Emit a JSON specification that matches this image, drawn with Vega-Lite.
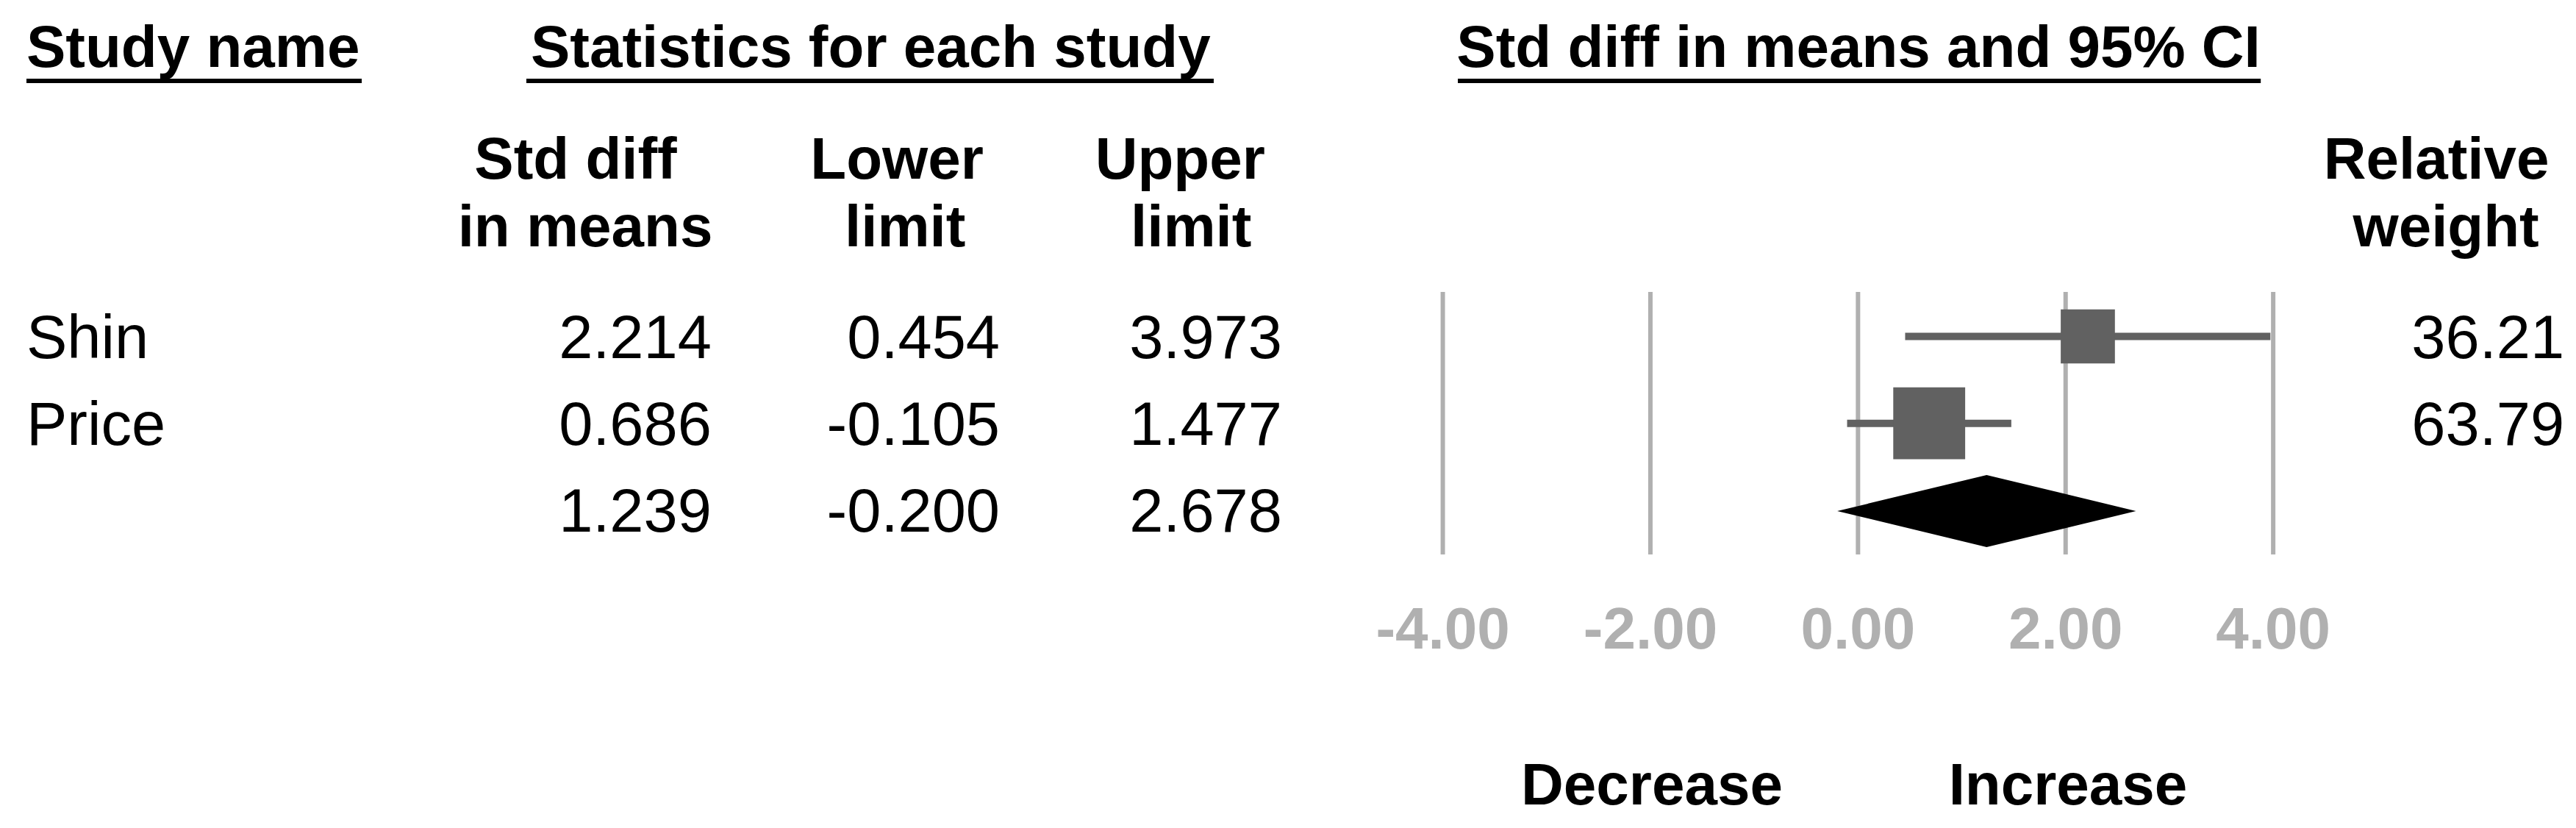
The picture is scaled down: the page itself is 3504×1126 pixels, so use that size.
{
  "$schema": "https://vega.github.io/schema/vega-lite/v6.json",
  "width": 3504,
  "height": 1126,
  "padding": 0,
  "autosize": {"type": "none"},
  "background": "white",
  "config": {
    "view": {"stroke": null},
    "locale": {"number": {"decimal": ".", "thousands": ",", "grouping": [3], "currency": ["$", ""], "minus": "-"}},
    "text": {"font": "Liberation Sans", "baseline": "alphabetic", "color": "black"}
  },
  "data": {"values": [{}]},
  "datasets": {
    "studies": [
      {"study": "Shin", "row": 1, "est": 2.214, "lower": 0.454, "upper": 3.973, "weight": 36.21},
      {"study": "Price", "row": 2, "est": 0.686, "lower": -0.105, "upper": 1.477, "weight": 63.79},
      {"study": "", "row": 3, "est": 1.239, "lower": -0.2, "upper": 2.678, "weight": null}
    ],
    "ticks": [{"tick": -4}, {"tick": -2}, {"tick": 0}, {"tick": 2}, {"tick": 4}],
    "diamond": [
      {"v": -0.2, "lo": 3.009, "hi": 3.009},
      {"v": 1.239, "lo": 2.595, "hi": 3.424},
      {"v": 2.678, "lo": 3.009, "hi": 3.009}
    ]
  },
  "layer": [
    {
      "data": {"name": "ticks"},
      "mark": {"type": "rule", "color": "#b0b0b0", "strokeWidth": 6},
      "encoding": {
        "x": {"field": "tick", "type": "quantitative", "scale": {"domain": [-17.8997, 6.917], "nice": false, "zero": false}, "axis": null},
        "y": {"datum": 0.4882, "type": "quantitative", "scale": {"domain": [-2.8706, 6.6557], "nice": false, "zero": false, "reverse": true}, "axis": null},
        "y2": {"datum": 3.5085}
      }
    },
    {
      "data": {"name": "ticks"},
      "mark": {"type": "text", "fontSize": 80, "fontWeight": "bold", "color": "#b0b0b0", "align": "center"},
      "encoding": {
        "x": {"field": "tick", "type": "quantitative", "axis": null},
        "y": {"datum": 4.5914, "type": "quantitative", "axis": null},
        "text": {"field": "tick", "type": "quantitative", "format": ".2f"}
      }
    },
    {
      "data": {"name": "studies"},
      "transform": [{"filter": "isValid(datum.weight)"}],
      "mark": {"type": "rule", "color": "#616161", "strokeWidth": 10},
      "encoding": {
        "x": {"field": "lower", "type": "quantitative", "axis": null},
        "x2": {"field": "upper"},
        "y": {"field": "row", "type": "quantitative", "axis": null}
      }
    },
    {
      "data": {"name": "studies"},
      "transform": [{"filter": "isValid(datum.weight)"}],
      "mark": {"type": "point", "shape": "square", "filled": true, "color": "#616161", "opacity": 1, "strokeWidth": 0},
      "encoding": {
        "x": {"field": "est", "type": "quantitative", "axis": null},
        "y": {"field": "row", "type": "quantitative", "axis": null},
        "size": {"field": "weight", "type": "quantitative", "scale": {"domain": [0, 100], "range": [0, 15000]}, "legend": null}
      }
    },
    {
      "data": {"name": "diamond"},
      "mark": {"type": "area", "color": "black", "orient": "vertical"},
      "encoding": {
        "x": {"field": "v", "type": "quantitative", "axis": null},
        "y": {"field": "lo", "type": "quantitative", "axis": null},
        "y2": {"field": "hi"}
      }
    },
    {
      "data": {"name": "studies"},
      "mark": {"type": "text", "fontSize": 83, "align": "left", "dy": 29.5},
      "encoding": {
        "x": {"datum": -17.645, "type": "quantitative", "axis": null},
        "y": {"field": "row", "type": "quantitative", "axis": null},
        "text": {"field": "study", "type": "nominal"}
      }
    },
    {
      "data": {"name": "studies"},
      "mark": {"type": "text", "fontSize": 83, "align": "right", "dy": 29.5},
      "encoding": {
        "x": {"datum": -11.045, "type": "quantitative", "axis": null},
        "y": {"field": "row", "type": "quantitative", "axis": null},
        "text": {"field": "est", "type": "quantitative", "format": ".3f"}
      }
    },
    {
      "data": {"name": "studies"},
      "mark": {"type": "text", "fontSize": 83, "align": "right", "dy": 29.5},
      "encoding": {
        "x": {"datum": -8.268, "type": "quantitative", "axis": null},
        "y": {"field": "row", "type": "quantitative", "axis": null},
        "text": {"field": "lower", "type": "quantitative", "format": ".3f"}
      }
    },
    {
      "data": {"name": "studies"},
      "mark": {"type": "text", "fontSize": 83, "align": "right", "dy": 29.5},
      "encoding": {
        "x": {"datum": -5.549, "type": "quantitative", "axis": null},
        "y": {"field": "row", "type": "quantitative", "axis": null},
        "text": {"field": "upper", "type": "quantitative", "format": ".3f"}
      }
    },
    {
      "data": {"name": "studies"},
      "transform": [{"filter": "isValid(datum.weight)"}],
      "mark": {"type": "text", "fontSize": 83, "align": "right", "dy": 29.5},
      "encoding": {
        "x": {"datum": 6.804, "type": "quantitative", "axis": null},
        "y": {"field": "row", "type": "quantitative", "axis": null},
        "text": {"field": "weight", "type": "quantitative", "format": ".2f"}
      }
    },
    {
      "mark": {"type": "text", "fontSize": 80, "fontWeight": "bold", "align": "left", "text": "Study name"},
      "encoding": {"x": {"datum": -17.645, "type": "quantitative", "axis": null}, "y": {"datum": -2.1, "type": "quantitative", "axis": null}}
    },
    {
      "mark": {"type": "text", "fontSize": 80, "fontWeight": "bold", "align": "center", "text": "Statistics for each study"},
      "encoding": {"x": {"datum": -9.512, "type": "quantitative", "axis": null}, "y": {"datum": -2.1, "type": "quantitative", "axis": null}}
    },
    {
      "mark": {"type": "text", "fontSize": 80, "fontWeight": "bold", "align": "center", "text": "Std diff in means and 95% CI"},
      "encoding": {"x": {"datum": 0.005, "type": "quantitative", "axis": null}, "y": {"datum": -2.1, "type": "quantitative", "axis": null}}
    },
    {
      "mark": {"type": "rule", "color": "black", "strokeWidth": 6},
      "encoding": {"x": {"datum": -17.645, "type": "quantitative", "axis": null}, "x2": {"datum": -14.415}, "y": {"datum": -1.94, "type": "quantitative", "axis": null}}
    },
    {
      "mark": {"type": "rule", "color": "black", "strokeWidth": 6},
      "encoding": {"x": {"datum": -12.829, "type": "quantitative", "axis": null}, "x2": {"datum": -6.207}, "y": {"datum": -1.94, "type": "quantitative", "axis": null}}
    },
    {
      "mark": {"type": "rule", "color": "black", "strokeWidth": 6},
      "encoding": {"x": {"datum": -3.855, "type": "quantitative", "axis": null}, "x2": {"datum": 3.88}, "y": {"datum": -1.94, "type": "quantitative", "axis": null}}
    },
    {
      "mark": {"type": "text", "fontSize": 80, "fontWeight": "bold", "align": "center", "text": "Std diff"},
      "encoding": {"x": {"datum": -12.354, "type": "quantitative", "axis": null}, "y": {"datum": -0.8147, "type": "quantitative", "axis": null}}
    },
    {
      "mark": {"type": "text", "fontSize": 80, "fontWeight": "bold", "align": "center", "text": "in means"},
      "encoding": {"x": {"datum": -12.262, "type": "quantitative", "axis": null}, "y": {"datum": -0.0364, "type": "quantitative", "axis": null}}
    },
    {
      "mark": {"type": "text", "fontSize": 80, "fontWeight": "bold", "align": "center", "text": "Lower"},
      "encoding": {"x": {"datum": -9.258, "type": "quantitative", "axis": null}, "y": {"datum": -0.8147, "type": "quantitative", "axis": null}}
    },
    {
      "mark": {"type": "text", "fontSize": 80, "fontWeight": "bold", "align": "center", "text": "limit"},
      "encoding": {"x": {"datum": -9.18, "type": "quantitative", "axis": null}, "y": {"datum": -0.0364, "type": "quantitative", "axis": null}}
    },
    {
      "mark": {"type": "text", "fontSize": 80, "fontWeight": "bold", "align": "center", "text": "Upper"},
      "encoding": {"x": {"datum": -6.531, "type": "quantitative", "axis": null}, "y": {"datum": -0.8147, "type": "quantitative", "axis": null}}
    },
    {
      "mark": {"type": "text", "fontSize": 80, "fontWeight": "bold", "align": "center", "text": "limit"},
      "encoding": {"x": {"datum": -6.425, "type": "quantitative", "axis": null}, "y": {"datum": -0.0364, "type": "quantitative", "axis": null}}
    },
    {
      "mark": {"type": "text", "fontSize": 80, "fontWeight": "bold", "align": "center", "text": "Relative"},
      "encoding": {"x": {"datum": 5.572, "type": "quantitative", "axis": null}, "y": {"datum": -0.8147, "type": "quantitative", "axis": null}}
    },
    {
      "mark": {"type": "text", "fontSize": 80, "fontWeight": "bold", "align": "center", "text": "weight"},
      "encoding": {"x": {"datum": 5.664, "type": "quantitative", "axis": null}, "y": {"datum": -0.0364, "type": "quantitative", "axis": null}}
    },
    {
      "mark": {"type": "text", "fontSize": 80, "fontWeight": "bold", "align": "center", "text": "Decrease"},
      "encoding": {"x": {"datum": -1.986, "type": "quantitative", "axis": null}, "y": {"datum": 6.3849, "type": "quantitative", "axis": null}}
    },
    {
      "mark": {"type": "text", "fontSize": 80, "fontWeight": "bold", "align": "center", "text": "Increase"},
      "encoding": {"x": {"datum": 2.023, "type": "quantitative", "axis": null}, "y": {"datum": 6.3849, "type": "quantitative", "axis": null}}
    }
  ]
}
